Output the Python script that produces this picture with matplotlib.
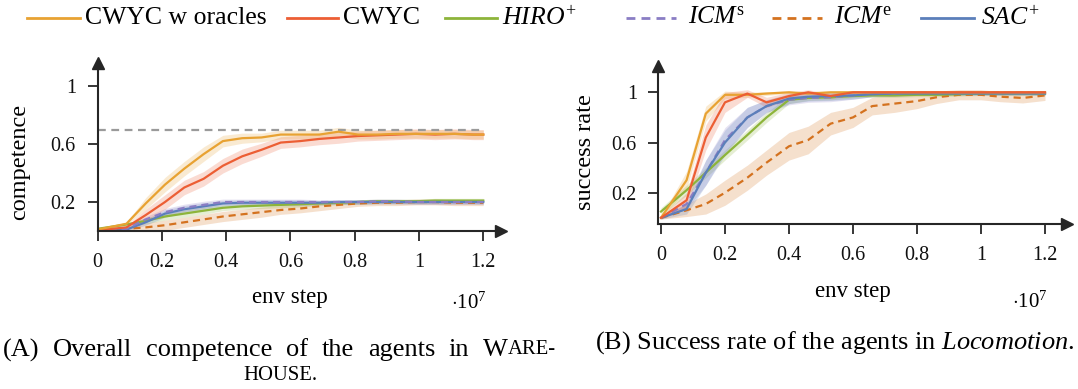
import numpy as np
import matplotlib
matplotlib.use("Agg")
import matplotlib.pyplot as plt
from matplotlib.lines import Line2D

plt.rcParams['font.family'] = ['Liberation Serif', 'DejaVu Serif']
plt.rcParams['mathtext.fontset'] = 'custom'
plt.rcParams['mathtext.rm'] = 'Liberation Serif'
plt.rcParams['mathtext.it'] = 'Liberation Serif:italic'
plt.rcParams['mathtext.bf'] = 'Liberation Serif:bold'

# ---------------- data (env step in units of 1e7) ----------------
# Panel A: Warehouse competence
xa = [0, 0.09, 0.15, 0.21, 0.27, 0.33, 0.39, 0.45, 0.51, 0.57, 0.63,
      0.69, 0.75, 0.81, 0.87, 0.93, 0.99, 1.05, 1.11, 1.17, 1.2]
a_oracle = [0.01, 0.05, 0.19, 0.32, 0.43, 0.53, 0.62, 0.64, 0.645, 0.665, 0.665,
            0.665, 0.685, 0.665, 0.665, 0.67, 0.67, 0.67, 0.67, 0.665, 0.665]
a_oracle_sd = [0.005, 0.01, 0.04, 0.05, 0.05, 0.05, 0.04, 0.035, 0.03, 0.03, 0.03,
               0.03, 0.03, 0.03, 0.03, 0.03, 0.03, 0.03, 0.03, 0.03, 0.03]
a_cwyc = [0.005, 0.025, 0.11, 0.2, 0.3, 0.36, 0.45, 0.515, 0.56, 0.61, 0.62,
          0.635, 0.645, 0.655, 0.66, 0.665, 0.67, 0.665, 0.67, 0.665, 0.665]
a_cwyc_sd = [0.005, 0.01, 0.04, 0.05, 0.05, 0.05, 0.05, 0.05, 0.045, 0.04, 0.04,
             0.04, 0.04, 0.035, 0.035, 0.035, 0.035, 0.035, 0.035, 0.035, 0.035]
a_hiro = [0.015, 0.045, 0.07, 0.1, 0.12, 0.14, 0.16, 0.17, 0.175, 0.18, 0.185,
          0.19, 0.195, 0.2, 0.205, 0.205, 0.205, 0.21, 0.21, 0.21, 0.21]
a_icms = [0.01, 0.015, 0.08, 0.13, 0.16, 0.18, 0.2, 0.2, 0.2, 0.2, 0.2,
          0.2, 0.2, 0.2, 0.205, 0.205, 0.2, 0.2, 0.2, 0.2, 0.2]
a_icme = [0.005, 0.015, 0.025, 0.04, 0.06, 0.08, 0.1, 0.115, 0.13, 0.145, 0.155,
          0.17, 0.18, 0.19, 0.195, 0.195, 0.2, 0.2, 0.195, 0.195, 0.195]
a_sac = [0.01, 0.01, 0.06, 0.12, 0.15, 0.17, 0.19, 0.195, 0.195, 0.195, 0.195,
         0.195, 0.2, 0.2, 0.2, 0.2, 0.2, 0.2, 0.2, 0.2, 0.2]
a_low_sd = [0.005, 0.01, 0.02, 0.025, 0.025, 0.025, 0.02, 0.02, 0.02, 0.02, 0.02,
            0.015, 0.015, 0.015, 0.015, 0.015, 0.015, 0.015, 0.015, 0.015, 0.015]
a_icme_sd = [0.005, 0.015, 0.03, 0.035, 0.035, 0.035, 0.035, 0.035, 0.035, 0.03, 0.03,
             0.03, 0.025, 0.02, 0.02, 0.02, 0.02, 0.02, 0.02, 0.02, 0.02]
a_max_competence = 0.70

# Panel B: Locomotion success rate
xb = [0, 0.08, 0.14, 0.2, 0.27, 0.33, 0.4, 0.46, 0.53, 0.6, 0.66, 0.73, 0.8,
      0.86, 0.93, 1.0, 1.06, 1.13, 1.2]
b_oracle = [0.0, 0.3, 0.83, 0.98, 0.98, 0.99, 1.0, 0.99, 1.0, 1.0, 1.0, 1.0, 1.0,
            1.0, 1.0, 1.0, 1.0, 1.0, 1.0]
b_oracle_sd = [0.01, 0.07, 0.06, 0.03, 0.02, 0.015, 0.01, 0.01, 0.01, 0.01, 0.01, 0.01, 0.01,
               0.01, 0.01, 0.01, 0.01, 0.01, 0.01]
b_cwyc = [0.0, 0.14, 0.64, 0.92, 0.99, 0.92, 0.97, 1.0, 0.97, 1.0, 1.0, 1.0, 1.0,
          1.0, 1.0, 1.0, 1.0, 1.0, 1.0]
b_cwyc_sd = [0.01, 0.06, 0.1, 0.08, 0.03, 0.04, 0.03, 0.02, 0.02, 0.01, 0.01, 0.01, 0.01,
             0.01, 0.01, 0.01, 0.01, 0.01, 0.01]
b_hiro = [0.05, 0.22, 0.36, 0.5, 0.66, 0.8, 0.94, 0.955, 0.96, 0.97, 0.975, 0.975, 0.98,
          0.98, 0.985, 0.99, 0.99, 0.99, 0.99]
b_hiro_sd = [0.03, 0.04, 0.04, 0.04, 0.04, 0.04, 0.03, 0.02, 0.02, 0.015, 0.015, 0.015, 0.015,
             0.015, 0.015, 0.015, 0.015, 0.015, 0.015]
b_icms = [0.0, 0.11, 0.36, 0.62, 0.8, 0.89, 0.94, 0.955, 0.96, 0.975, 0.985, 0.99, 1.0,
          1.0, 1.0, 1.0, 1.0, 1.0, 1.0]
b_icme = [0.0, 0.06, 0.11, 0.2, 0.32, 0.44, 0.57, 0.62, 0.75, 0.8, 0.89, 0.91, 0.93,
          0.96, 0.98, 0.98, 0.965, 0.955, 0.975]
b_icme_sd = [0.01, 0.05, 0.08, 0.1, 0.1, 0.1, 0.11, 0.11, 0.09, 0.08, 0.07, 0.07, 0.06,
             0.05, 0.04, 0.04, 0.04, 0.04, 0.04]
b_sac = [0.0, 0.07, 0.36, 0.6, 0.8, 0.89, 0.95, 0.965, 0.97, 0.975, 0.985, 0.99, 0.99,
         0.99, 0.99, 0.99, 0.99, 0.99, 0.99]
b_sac_sd = [0.01, 0.04, 0.1, 0.1, 0.08, 0.05, 0.04, 0.035, 0.035, 0.03, 0.02, 0.02, 0.015,
            0.015, 0.015, 0.015, 0.015, 0.015, 0.015]

labels = ["CWYC w oracles", "CWYC", r"$\mathit{HIRO}^{+}$",
          r"$\mathit{ICM}^{\mathrm{s}}$", r"$\mathit{ICM}^{\mathrm{e}}$", r"$\mathit{SAC}^{+}$"]
colors = ["#E8A232", "#EC5E34", "#8DB43A", "#8A7DC4", "#D4721F", "#5B7FBA"]
styles = ["-", "-", "-", (0, (3.2, 2.2)), (0, (3.2, 2.2)), "-"]

AXC = "#262626"
W, H = 1078, 389

fig = plt.figure(figsize=(W / 100, H / 100), dpi=100)


def make_axes(x0_px, y0_px, px_x, px_y, xlim, ylim):
    left = (x0_px + xlim[0] * px_x) / W
    width = (xlim[1] - xlim[0]) * px_x / W
    bottom = (H - (y0_px - ylim[0] * px_y)) / H
    height = (ylim[1] - ylim[0]) * px_y / H
    ax = fig.add_axes([left, bottom, width, height])
    ax.set_xlim(*xlim)
    ax.set_ylim(*ylim)
    for s in ["top", "right"]:
        ax.spines[s].set_visible(False)
    for s in ["left", "bottom"]:
        ax.spines[s].set_color(AXC)
        ax.spines[s].set_linewidth(1.5)
    ax.plot(1, 0, marker=">", color=AXC, ms=8, transform=ax.transAxes, clip_on=False)
    ax.plot(0, 1, marker="^", color=AXC, ms=8, transform=ax.transAxes, clip_on=False)
    ax.set_xticks([0, 0.2, 0.4, 0.6, 0.8, 1.0, 1.2])
    ax.set_xticklabels(["0", "0.2", "0.4", "0.6", "0.8", "1", "1.2"])
    ax.set_yticks([0.2, 0.6, 1.0])
    ax.set_yticklabels(["0.2", "0.6", "1"])
    ax.tick_params(direction="out", length=7.5, width=1.3, color=AXC,
                   labelsize=14.5, labelcolor="#111111")
    ax.tick_params(axis="x", pad=8)
    ax.tick_params(axis="y", pad=8)
    return ax


def series(ax, x, y, sd, i, lw=1.6):
    y = np.asarray(y)
    if sd is not None:
        sd = np.asarray(sd)
        ax.fill_between(x, y - sd, y + sd, color=colors[i], alpha=0.22, lw=0)
    ax.plot(x, y, color=colors[i], ls=styles[i], lw=lw)


# ---------- panel A ----------
axA = make_axes(97.5, 231, 321.5, 145, (0, 1.255), (0, 1.16))
axA.plot([0, 1.2], [a_max_competence] * 2, color="#9a9a9a", lw=1.6, ls=(0, (3.5, 2.5)))
series(axA, xa, a_icme, a_icme_sd, 4)
series(axA, xa, a_hiro, a_low_sd, 2)
series(axA, xa, a_sac, a_low_sd, 5)
series(axA, xa, a_icms, a_low_sd, 3)
series(axA, xa, a_cwyc, a_cwyc_sd, 1)
series(axA, xa, a_oracle, a_oracle_sd, 0)
axA.set_ylabel("competence", fontsize=17.5)
axA.yaxis.set_label_coords(30 / W, 1 - 162 / H, transform=fig.transFigure)

# ---------- panel B ----------
axB = make_axes(661, 217.8, 320, 125.5, (-0.008, 1.27), (-0.05, 1.213))
series(axB, xb, b_icme, b_icme_sd, 4)
series(axB, xb, b_hiro, b_hiro_sd, 2)
series(axB, xb, b_icms, b_sac_sd, 3)
series(axB, xb, b_sac, b_sac_sd, 5)
series(axB, xb, b_oracle, b_oracle_sd, 0)
series(axB, xb, b_cwyc, b_cwyc_sd, 1)
axB.set_ylabel("success rate", fontsize=17.5)
axB.yaxis.set_label_coords(596 / W, 1 - 152 / H, transform=fig.transFigure)

# axis labels / multipliers placed like the reference
fig.text(290 / W, 1 - 298 / H, "env step", fontsize=16.5, ha="center", va="center")
fig.text(853 / W, 1 - 291 / H, "env step", fontsize=16.5, ha="center", va="center")
fig.text(469 / W, 1 - 303 / H, r"$\cdot10^{7}$", fontsize=15, ha="center", va="center")
fig.text(1030 / W, 1 - 302 / H, r"$\cdot10^{7}$", fontsize=15, ha="center", va="center")

# ---------- legend (top row) ----------
leg_lines = [(27, 80), (287, 338), (445, 497), (626, 676), (772, 822), (921, 974)]
leg_text_x = [85, 343, 502, 688, 834, 981]
ly = 1 - 18 / H
for i in range(6):
    x0, x1 = leg_lines[i]
    fig.add_artist(Line2D([x0 / W, x1 / W], [ly, ly], transform=fig.transFigure,
                          color=colors[i], ls=styles[i], lw=2.0))
    fig.text(leg_text_x[i] / W, ly, labels[i], fontsize=18.5, ha="left", va="center")

# ---------- captions ----------
cap_fs = 19
sc_fs = cap_fs * 0.78
renderer = fig.canvas.get_renderer()
cy = 1 - 350 / H
words = ["(A)", "Overall", "competence", "of", "the", "agents", "in"]
arts = [fig.text(0, cy, w, fontsize=cap_fs, ha="left", va="center") for w in words]
tW = fig.text(0, cy, "W", fontsize=cap_fs, ha="left", va="center")
tARE = fig.text(0, cy, "ARE-", fontsize=sc_fs, ha="left", va="center")
widths = [a.get_window_extent(renderer=renderer).width for a in arts]
wW = tW.get_window_extent(renderer=renderer).width
wARE = tARE.get_window_extent(renderer=renderer).width
total = sum(widths) + wW + wARE
x_start, x_end = 3, 556
gap = (x_end - x_start - total) / len(words)
xpos = x_start
for a, w in zip(arts, widths):
    a.set_x(xpos / W)
    xpos += w + gap
tW.set_x(xpos / W)
tARE.set_x((xpos + wW) / W)
fig.text(280 / W, 1 - 376 / H, "HOUSE.", fontsize=sc_fs, ha="center", va="center")
fig.text(835 / W, 1 - 343 / H, r"(B) Success rate of the agents in $\mathit{Locomotion}$.",
         fontsize=cap_fs, ha="center", va="center")

fig.savefig("out.png", dpi=100)
